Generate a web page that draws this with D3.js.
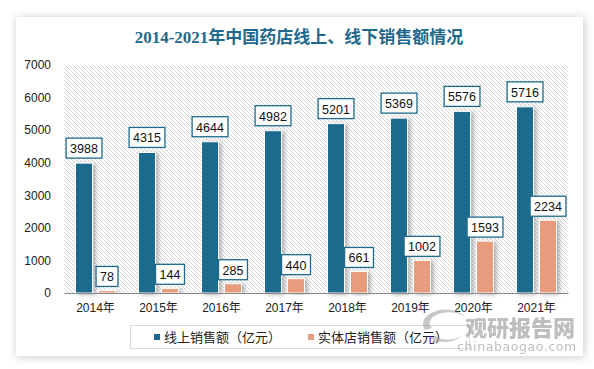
<!DOCTYPE html>
<html><head><meta charset="utf-8">
<script src="https://cdn.jsdelivr.net/npm/d3@7"></script>
<style>body{margin:0;background:#fff;}svg{display:block;}</style>
</head><body>
<script>
const categories = ["2014年","2015年","2016年","2017年","2018年","2019年","2020年","2021年"];
const onlineSales = [3988,4315,4644,4982,5201,5369,5576,5716];
const storeSales = [78,144,285,440,661,1002,1593,2234];
const seriesNames = ["线上销售额（亿元）","实体店销售额（亿元）"];
const yTicks = [0,1000,2000,3000,4000,5000,6000,7000];
const title = "2014-2021年中国药店线上、线下销售额情况";

const W=594,H=369;
const colOn="#1c6a8e", colOff="#e89c7e", teal="#1f6a8c";
const svg=d3.select("body").append("svg").attr("width",W).attr("height",H);
const defs=svg.append("defs");
const f1=defs.append("filter").attr("id","cardsh").attr("x","-10%").attr("y","-10%").attr("width","120%").attr("height","120%");
f1.append("feDropShadow").attr("dx",1).attr("dy",1).attr("stdDeviation",5).attr("flood-color","#000").attr("flood-opacity",0.22);
const f2=defs.append("filter").attr("id","barsh").attr("x","-50%").attr("y","-10%").attr("width","200%").attr("height","120%");
f2.append("feDropShadow").attr("dx",2.5).attr("dy",1).attr("stdDeviation",2).attr("flood-color","#000").attr("flood-opacity",0.3);
const pat=defs.append("pattern").attr("id","hatch").attr("patternUnits","userSpaceOnUse").attr("width",4).attr("height",4);
pat.append("rect").attr("width",4).attr("height",4).attr("fill","#fff");
pat.append("path").attr("d","M0,0L4,4M-1,3L1,5M3,-1L5,1").attr("stroke","#d6d6d6").attr("stroke-width",1);

svg.append("rect").attr("x",16).attr("y",17).attr("width",567).attr("height",339).attr("fill","#fff").attr("filter","url(#cardsh)");

svg.append("text").attr("x",299).attr("y",43).attr("text-anchor","middle")
  .attr("font-family","'Liberation Serif','Noto Sans CJK SC',serif").attr("font-weight","bold")
  .attr("font-size",17).attr("fill",teal).text(title);

const x0=64,x1=568,yTop=65,yBot=293;
const y=d3.scaleLinear().domain([0,7000]).range([yBot,yTop]);
const x=d3.scaleBand().domain(categories).range([x0,x1]);
const xs=d3.scaleBand().domain([0,1]).range([0,x.bandwidth()]).paddingInner(0.26).paddingOuter(0.5);

svg.append("rect").attr("x",x0).attr("y",yTop).attr("width",x1-x0).attr("height",yBot-yTop).attr("fill","url(#hatch)");

const yAxis=svg.append("g").attr("transform",`translate(${x0},0)`)
  .call(d3.axisLeft(y).tickValues(yTicks).tickSize(0).tickPadding(13).tickFormat(d3.format("d")));
yAxis.select(".domain").remove();
yAxis.selectAll("text").attr("font-family","'Liberation Sans',Arial,sans-serif").attr("font-size",12).attr("fill","#222");

const series=[onlineSales,storeSales];
const colors=[colOn,colOff];
series.forEach((vals,si)=>{
  svg.append("g").selectAll("rect").data(vals).join("rect")
    .attr("x",(d,i)=>x(categories[i])+xs(si)).attr("width",xs.bandwidth())
    .attr("y",d=>y(d)).attr("height",d=>yBot-y(d))
    .attr("fill",colors[si]).attr("stroke","#fff").attr("stroke-width",1).attr("filter","url(#barsh)");
});

const xAxis=svg.append("g").attr("transform",`translate(0,${yBot})`)
  .call(d3.axisBottom(x).tickSize(0).tickPadding(10));
xAxis.select(".domain").attr("stroke","#888").attr("stroke-width",1.2);
xAxis.selectAll("text").attr("font-family","'Liberation Sans','Noto Sans CJK SC',sans-serif").attr("font-size",12).attr("fill","#222");

series.forEach((vals,si)=>{
  const g=svg.append("g").selectAll("g").data(vals).join("g")
    .attr("transform",(d,i)=>`translate(${x(categories[i])+xs(si)+xs.bandwidth()/2},${y(d)-(si===0?5:4)})`);
  g.append("text").attr("text-anchor","middle").attr("y",-5)
    .attr("font-family","'Liberation Sans',Arial,sans-serif").attr("font-size",12.5).attr("fill","#111").text(d=>d);
  g.each(function(){
    const t=d3.select(this).select("text").node().getBBox();
    d3.select(this).insert("rect","text").attr("x",t.x-4).attr("y",-20).attr("width",t.width+8).attr("height",20)
      .attr("fill","#fff").attr("stroke",teal).attr("stroke-width",1.3);
  });
});

const lg=svg.append("g");
lg.append("rect").attr("x",130.5).attr("y",325.5).attr("width",339).attr("height",23).attr("fill","#fff").attr("stroke","#d9d9d9");
const lx=[154,308];
seriesNames.forEach((n,i)=>{
  lg.append("rect").attr("x",lx[i]).attr("y",334).attr("width",6).attr("height",6).attr("fill",colors[i]);
  lg.append("text").attr("x",lx[i]+10).attr("y",342).attr("font-family","'Noto Sans CJK SC',sans-serif").attr("font-size",13).attr("fill","#222").text(n);
});

const wm=svg.append("g").attr("opacity",0.55);
wm.append("text").attr("x",520).attr("y",336).attr("text-anchor","middle").attr("font-family","'Noto Sans CJK SC',sans-serif").attr("font-weight","900").attr("font-size",22).attr("fill","#8a8a8a").text("观研报告网");
wm.append("text").attr("x",517).attr("y",351).attr("text-anchor","middle").attr("font-family","'DejaVu Sans',sans-serif").attr("font-size",12.5).attr("fill","#8a8a8a").attr("letter-spacing",0.6).text("chinabaogao.com");
wm.append("path").attr("d","M425,330 A22,14 0 0 1 466,318 A18,10 0 0 0 432,328 Z").attr("fill","#9a9a9a");
wm.append("path").attr("d","M430,338 A18,10 0 0 0 462,334 A14,7 0 0 1 436,336 Z").attr("fill","#9a9a9a");
</script>
</body></html>
